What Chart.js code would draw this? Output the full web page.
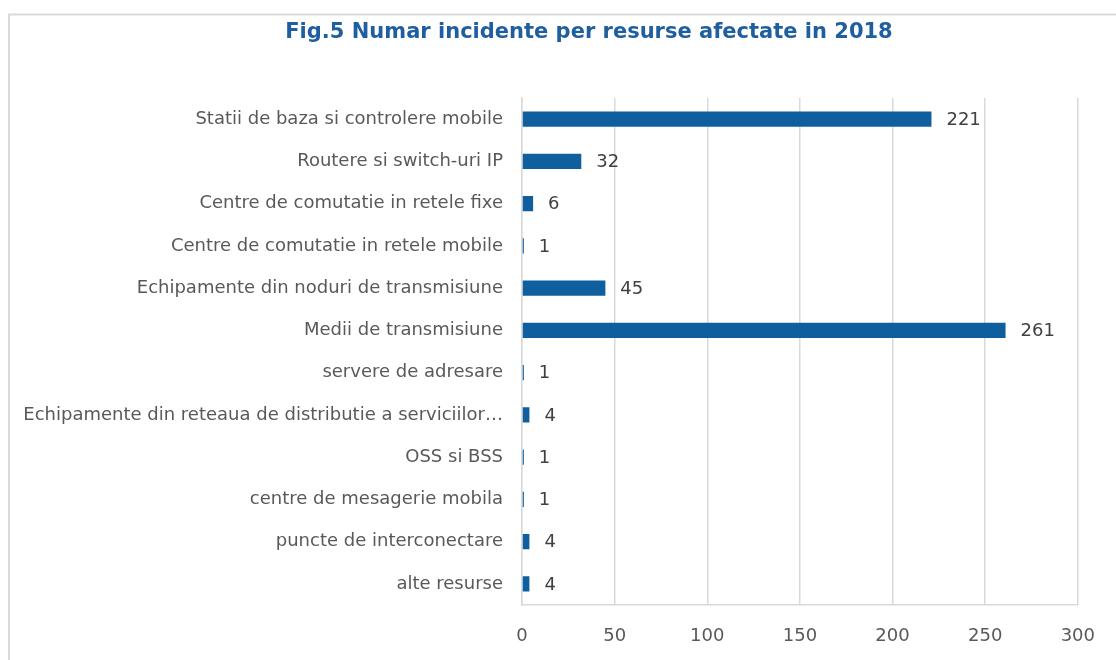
<!DOCTYPE html>
<html><head><meta charset="utf-8">
<script src="https://cdn.jsdelivr.net/npm/chart.js@4"></script>
<style>html,body{margin:0;padding:0;background:#fff;overflow:hidden}canvas{display:block}</style>
</head><body><canvas id="c" width="1116" height="660"></canvas>
<script>
const categories = [
  "Statii de baza si controlere mobile",
  "Routere si switch-uri IP",
  "Centre de comutatie in retele fixe",
  "Centre de comutatie in retele mobile",
  "Echipamente din noduri de transmisiune",
  "Medii de transmisiune",
  "servere de adresare",
  "Echipamente din reteaua de distributie a serviciilor…",
  "OSS si BSS",
  "centre de mesagerie mobila",
  "puncte de interconectare",
  "alte resurse"
];
const values = [221, 32, 6, 1, 45, 261, 1, 4, 1, 1, 4, 4];
const xTicks = [0, 50, 100, 150, 200, 250, 300];
const title = "Fig.5 Numar incidente per resurse afectate in 2018";

const FONT = "'DejaVu Sans', Verdana, sans-serif";

const frame = {
  id: 'frame',
  beforeDraw(chart) {
    const ctx = chart.ctx;
    ctx.save();
    ctx.fillStyle = '#fff';
    ctx.fillRect(0, 0, chart.width, chart.height);
    ctx.strokeStyle = '#d9d9d9';
    ctx.lineWidth = 2;
    ctx.beginPath();
    ctx.moveTo(9, chart.height + 5);
    ctx.lineTo(9, 14.5);
    ctx.lineTo(chart.width + 5, 14.5);
    ctx.stroke();
    ctx.fillStyle = '#1f5f9f';
    ctx.font = "bold 21px " + FONT;
    ctx.textAlign = 'center';
    ctx.textBaseline = 'middle';
    ctx.fillText(title, 589, 33);
    ctx.restore();
  }
};

const valueLabels = {
  id: 'valueLabels',
  afterDatasetsDraw(chart) {
    const ctx = chart.ctx;
    const meta = chart.getDatasetMeta(0);
    ctx.save();
    ctx.font = "18px " + FONT;
    ctx.fillStyle = '#404040';
    ctx.textAlign = 'left';
    ctx.textBaseline = 'middle';
    meta.data.forEach((bar, i) => {
      ctx.fillText(String(values[i]), bar.x + 15, bar.y + 1);
    });
    ctx.restore();
  }
};

new Chart(document.getElementById('c'), {
  type: 'bar',
  data: {
    labels: categories,
    datasets: [{
      data: values,
      backgroundColor: '#0f5f9f',
      borderWidth: 0,
      categoryPercentage: 1,
      barPercentage: 0.36
    }]
  },
  options: {
    indexAxis: 'y',
    responsive: false,
    animation: false,
    layout: { padding: { left: 0, right: 35, top: 98, bottom: 13 } },
    plugins: {
      legend: { display: false },
      tooltip: { enabled: false },
      title: { display: false }
    },
    scales: {
      x: {
        min: 0, max: 300,
        afterBuildTicks(scale) { scale.ticks = xTicks.map(v => ({ value: v })); },
        afterFit(scale) { scale.height = 42; },
        ticks: {
          color: '#595959',
          font: { family: FONT, size: 18 },
          padding: 21,
          maxRotation: 0
        },
        grid: { color: '#d9d9d9', lineWidth: 1.5, drawTicks: false },
        border: { display: true, color: '#d9d9d9', width: 1.5 }
      },
      y: {
        afterFit(scale) { scale.width = 522; },
        ticks: {
          color: '#595959',
          font: { family: FONT, size: 18 },
          padding: 19,
          autoSkip: false
        },
        grid: { display: false, drawTicks: false },
        border: { display: true, color: '#d9d9d9', width: 1.5 }
      }
    }
  },
  plugins: [frame, valueLabels]
});
</script>
</body></html>
